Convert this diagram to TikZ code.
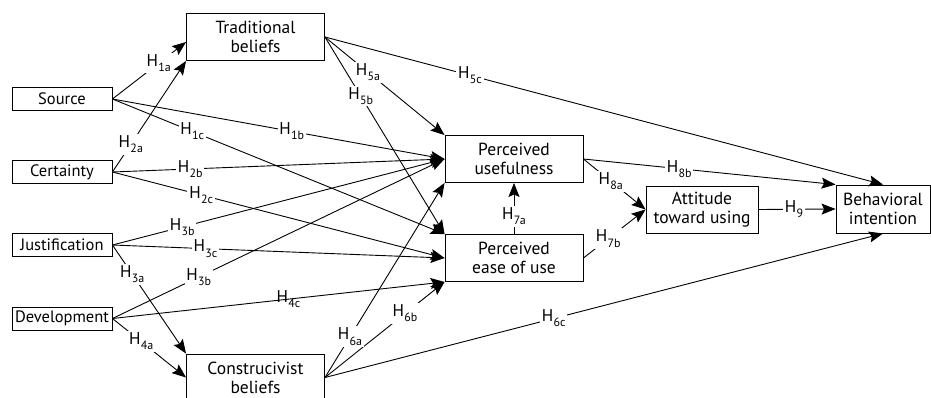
\documentclass[tikz,border=0pt]{standalone}
\usepackage{fontspec}
\setmainfont{PT Sans}
\usetikzlibrary{arrows.meta}
\newcommand\hyp[1]{H\kern0.3pt\raisebox{-0.6ex}{\fontsize{12}{12}\selectfont #1}}
\newcommand\edgelist{%
  \HypEdge{source.east}{[yshift=-5pt]trad.west}{0.63}{1a}{}
  \HypEdge{cert.east}{trad.south west}{0.25}{2a}{}
  \HypEdge{source.east}{pu.west}{0.54}{1b}{}
  \HypEdge{source.east}{peou.north west}{0.24}{1c}{}
  \HypEdge{cert.east}{pu.west}{0.234}{2b}{}
  \HypEdge{cert.east}{peou.west}{0.267}{2c}{}
  \HypEdge{just.east}{pu.west}{0.21}{3b}{}
  \HypEdge{just.east}{peou.west}{0.28}{3c}{}
  \HypEdge{just.east}{cons.north west}{0.27}{3a}{}
  \HypEdge{dev.east}{pu.west}{0.26}{3b}{}
  \HypEdge{dev.east}{peou.south west}{0.53}{4c}{fill=none}
  \HypEdge{dev.east}{cons.west}{0.39}{4a}{}
  \HypEdge{trad.east}{pu.north west}{0.36}{5a}{}
  \HypEdge{trad.east}{peou.north west}{0.30}{5b}{}
  \HypEdge{trad.east}{bi.north}{0.26}{5c}{}
  \HypEdge{cons.east}{pu.south west}{0.21}{6a}{}
  \HypEdge{cons.east}{peou.south west}{0.67}{6b}{}
  \HypEdge{cons.east}{bi.south}{0.41}{6c}{}
  \HypEdge{peou.north}{pu.south}{0.35}{7a}{}
  \HypEdge{peou.east}{att.west}{0.40}{7b}{}
  \HypEdge{pu.east}{att.west}{0.44}{8a}{}
  \HypEdge{pu.east}{bi.north west}{0.38}{8b}{}
  \HypEdge{att.east}{bi.west}{0.46}{9}{}
}
\begin{document}
\begin{tikzpicture}[x=1pt,y=-1pt,
  box/.style={draw, line width=0.9pt, align=center, inner sep=0pt,
    font=\fontsize{17.5}{19}\selectfont},
  smallbox/.style={box, minimum width=100pt, minimum height=23pt,
    font=\fontsize{16.5}{18}\selectfont},
  bigbox/.style={box, minimum width=138pt, minimum height=47pt},
  conn/.style={line width=0.9pt, -{Stealth[length=14pt,width=11pt,inset=2.5pt]}},
  lab/.style={fill=white, inner sep=1.8pt, font=\fontsize{17}{17}\selectfont}]
\useasboundingbox (0,0) rectangle (931,397);
\node[bigbox] (trad) at (255.5,37) {Traditional\\beliefs};
\node[bigbox] (cons) at (255.5,377.5) {Construcivist\\beliefs};
\node[smallbox] (source) at (62,99) {Source};
\node[smallbox] (cert) at (62,172) {Certainty};
\node[smallbox] (just) at (62,245) {Justification};
\node[smallbox] (dev) at (62,318.5) {Development};
\node[bigbox] (pu) at (514,159) {Perceived\\usefulness};
\node[bigbox] (peou) at (514,258) {Perceived\\ease of use};
\node[box, minimum width=112pt, minimum height=47pt] (att) at (702,209.5) {Attitude\\toward using};
\node[box, minimum width=94pt, minimum height=48pt] (bi) at (883,209) {Behavioral\\intention};
\def\HypEdge#1#2#3#4#5{\draw[conn] (#1) -- (#2);}
\edgelist
\def\HypEdge#1#2#3#4#5{\path (#1) -- node[lab,pos=#3,#5]{\hyp{#4}} (#2);}
\edgelist
\end{tikzpicture}
\end{document}
